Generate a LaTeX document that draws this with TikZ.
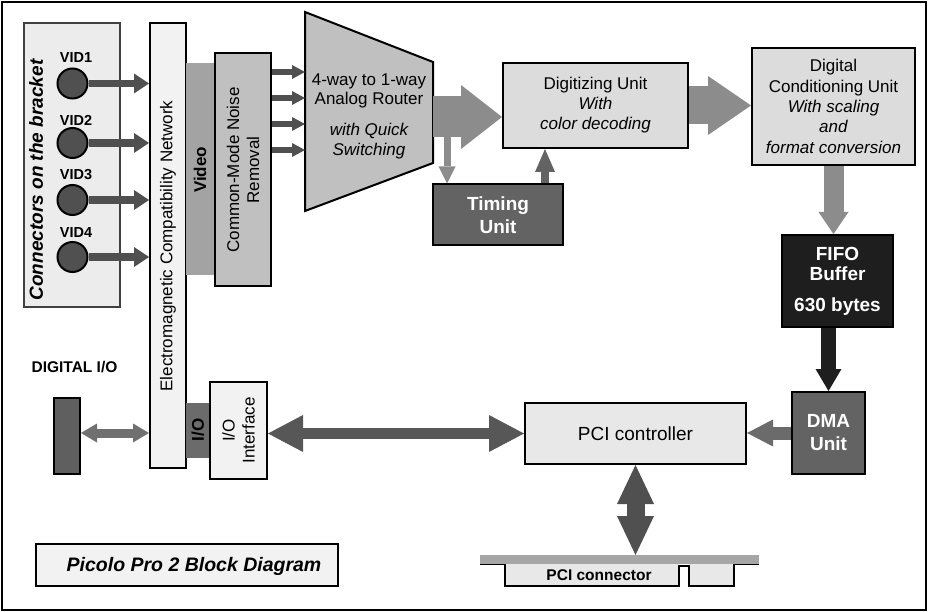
\documentclass[tikz,border=0pt]{standalone}
\usepackage{fontspec}
\setmainfont{Liberation Sans}
\usetikzlibrary{arrows.meta,calc}

\definecolor{bracketgray}{HTML}{ECECEC}
\definecolor{pingray}{HTML}{505050}
\definecolor{paper}{HTML}{F2F2F2}
\definecolor{bandgray}{HTML}{A3A3A3}
\definecolor{midgray}{HTML}{C0C0C0}
\definecolor{flowgray}{HTML}{8C8C8C}
\definecolor{unitgray}{HTML}{636363}
\definecolor{lightbox}{HTML}{DCDCDC}
\definecolor{fifoblack}{HTML}{1E1E1E}
\definecolor{ctrlgray}{HTML}{E8E8E8}
\definecolor{busgray}{HTML}{575757}
\definecolor{slotgray}{HTML}{A6A6A6}
\definecolor{dmagray}{HTML}{6B6B6B}
\definecolor{diogray}{HTML}{5F5F5F}
\definecolor{diolink}{HTML}{707070}

\tikzset{
  blk/.style={draw=black, line width=2pt, inner sep=0pt, align=center,
              font=\fontsize{17}{20}\selectfont},
  % fat arrow: shaft width, head width, head length, colour
  fat/.style n args={4}{draw=#4, line width=#1,
      -{Triangle[length=#3, width=#2, line width=0pt, fill=#4]}},
  dfat/.style n args={4}{draw=#4, line width=#1,
      {Triangle[length=#3, width=#2, line width=0pt, fill=#4]}-{Triangle[length=#3, width=#2, line width=0pt, fill=#4]}},
  vid/.style={circle, draw=black, line width=2pt, fill=pingray, minimum size=30pt, inner sep=0pt},
  vidlabel/.style={font=\bfseries\fontsize{14.5}{16}\selectfont, inner sep=0pt},
  whitebold/.style={text=white, font=\bfseries\fontsize{19}{23}\selectfont}
}

\begin{document}
\begin{tikzpicture}[x=1pt, y=-1pt]
\useasboundingbox (0,0) rectangle (928,612);
\draw[line width=1.5pt] (2,2) rectangle (926,610);

% ---- bracket with video connectors ----
\node[draw=black!75, line width=1.2pt, fill=bracketgray, minimum width=96pt, minimum height=284pt] (bracket) at (72,165) {};
\node[rotate=90, inner sep=0pt, font=\bfseries\itshape\fontsize{19}{22}\selectfont] (bracketlabel) at (36,180) {Connectors on the bracket};

\node[blk, fill=paper, minimum width=36pt, minimum height=445pt] (emc) at (168,245.5) {};
\node[rotate=90, inner sep=0pt, font=\fontsize{17}{20}\selectfont] (emclabel) at (168,246) {Electromagnetic Compatibility Network};

\foreach \i/\y/\ly in {1/83.5/58, 2/143/120, 3/200/175, 4/257/233} {
  \node[vid] (vid\i) at (72.5,\y) {};
  \node[vidlabel] (vidl\i) at (76,\ly) {VID\i};
  \draw[fat={7.5pt}{20pt}{15pt}{pingray}] (vid\i.east) -- (vid\i.east -| emc.west);
}

% ---- video band and common-mode noise removal ----
\node[fill=bandgray, minimum width=29pt, minimum height=212pt, inner sep=0pt] (videoband) at (200.5,169) {};
\node[rotate=90, inner sep=0pt, font=\bfseries\fontsize{17}{20}\selectfont] (videolabel) at (200,170) {Video};
\node[blk, fill=midgray, minimum width=56pt, minimum height=233pt] (cmnr) at (243,169.5) {};
\node[rotate=90, align=center, inner sep=0pt, font=\fontsize{17}{20}\selectfont] (cmnrlabel) at (243,170) {Common-Mode Noise\\Removal};

% ---- analog router ----
\draw[line width=2pt, fill=midgray] (305,12) coordinate (rtl) -- (433,62) coordinate (rtr)
   -- (433,163) coordinate (rbr) -- (305,211) coordinate (rbl) -- cycle;
\node[align=center, inner sep=0pt, font=\fontsize{17}{19}\selectfont] (router) at (369,91) {4-way to 1-way\\Analog Router};
\node[align=center, inner sep=0pt, font=\itshape\fontsize{17}{20}\selectfont] (routersub) at (369,141) {with Quick\\Switching};
\foreach \y [count=\k] in {72, 98, 124, 150} {
  \coordinate (rin\k) at (305,\y);
  \draw[fat={6pt}{14pt}{13pt}{pingray}] (rin\k -| cmnr.east) -- (rin\k);
}

% ---- digitizing and timing ----
\node[blk, fill=lightbox, minimum width=185pt, minimum height=85pt] (dig) at (595.5,105.5) {Digitizing Unit\\\textit{With}\\\textit{color decoding}};
\node[blk, fill=unitgray, minimum width=130pt, minimum height=61pt, whitebold] (tim) at (498,215) {Timing\\Unit};

\coordinate (rout) at (433,117);
\coordinate (tap) at (447,130);
\draw[fat={7pt}{17pt}{17pt}{flowgray}] (tap) -- (tap |- tim.north);
\draw[fat={41pt}{64pt}{41pt}{flowgray}] (rout) -- (rout -| dig.west);
\coordinate (tup) at (545,0);
\draw[fat={8pt}{20pt}{23pt}{unitgray}] (tup |- tim.north) -- (tup |- dig.south);

% ---- digital conditioning and FIFO ----
\node[blk, fill=lightbox, minimum width=163pt, minimum height=117pt, font=\fontsize{17}{20.3}\selectfont] (dcu) at (833.5,106.5)
  {Digital\\Conditioning Unit\\\textit{With scaling}\\\textit{and}\\\textit{format conversion}};
\draw[fat={38pt}{59pt}{43pt}{flowgray}] (dig.east) -- (dig.east -| dcu.west);

\node[blk, fill=fifoblack, minimum width=111pt, minimum height=92pt, text=white, font=\bfseries\fontsize{19}{20}\selectfont] (fifo) at (837.5,281)
  {FIFO\\Buffer\\[11pt]630 bytes};
\draw[fat={20pt}{30pt}{22pt}{flowgray}] (dcu.south) -- (dcu.south |- fifo.north);

\node[blk, fill=unitgray, minimum width=73pt, minimum height=82pt, whitebold] (dma) at (828.5,433) {DMA\\Unit};
\draw[fat={15pt}{26pt}{22pt}{fifoblack}] (fifo.south -| dma.north) -- (dma.north);

% ---- PCI side ----
\node[blk, fill=ctrlgray, minimum width=221pt, minimum height=61pt, font=\fontsize{19}{22}\selectfont] (pci) at (635.5,433.5) {PCI controller};
\draw[fat={13pt}{27pt}{26pt}{dmagray}] (dma.west) -- (dma.west -| pci.east);

% PCI edge connector
\fill[ctrlgray] (505,564) rectangle (679,586);
\fill[ctrlgray] (689,564) rectangle (734,586);
\draw[line width=2pt] (480,564) -- (505,564) -- (505,586) -- (679,586) -- (679,566)
   -- (689,566) -- (689,586) -- (734,586) -- (734,564) -- (759,564);
\fill[slotgray] (480,555) rectangle (759,564);
\coordinate (slot) at (635.5,555);
\node[inner sep=0pt, font=\bfseries\fontsize{15.5}{18}\selectfont] (slotlabel) at (599,575.5) {PCI connector};
\draw[dfat={18pt}{37pt}{39pt}{pingray}] (pci.south) -- (slot);

% ---- digital I/O ----
\node[inner sep=0pt, font=\bfseries\fontsize{15.5}{18}\selectfont] (diolabel) at (74.5,367) {DIGITAL I/O};
\node[blk, fill=diogray, minimum width=26pt, minimum height=76pt] (dio) at (67,436) {};
\coordinate (dioy) at (0,433);
\draw[dfat={9pt}{19pt}{16pt}{diolink}] (dio.east |- dioy) -- (emc.west |- dioy);

\node[fill=dmagray, minimum width=24pt, minimum height=55pt, inner sep=0pt] (ioband) at (198,430.5) {};
\node[rotate=90, inner sep=0pt, font=\bfseries\fontsize{17}{20}\selectfont] (iobandlabel) at (198,430) {I/O};
\node[blk, fill=paper, minimum width=57pt, minimum height=97pt] (ioi) at (238.5,430.5) {};
\node[rotate=90, align=center, inner sep=0pt, font=\fontsize{17}{20}\selectfont] (ioilabel) at (238.5,430.5) {I/O\\Interface};
\draw[dfat={11pt}{37pt}{35pt}{busgray}] (ioi.east |- pci.west) -- (pci.west);

% ---- title ----
\node[draw=black, line width=1.2pt, fill=paper, minimum width=302pt, minimum height=42pt] (titlebox) at (187,565) {};
\node[inner sep=0pt, font=\bfseries\itshape\fontsize{19.5}{22}\selectfont] (title) at (194,566) {Picolo Pro 2 Block Diagram};
\end{tikzpicture}
\end{document}
